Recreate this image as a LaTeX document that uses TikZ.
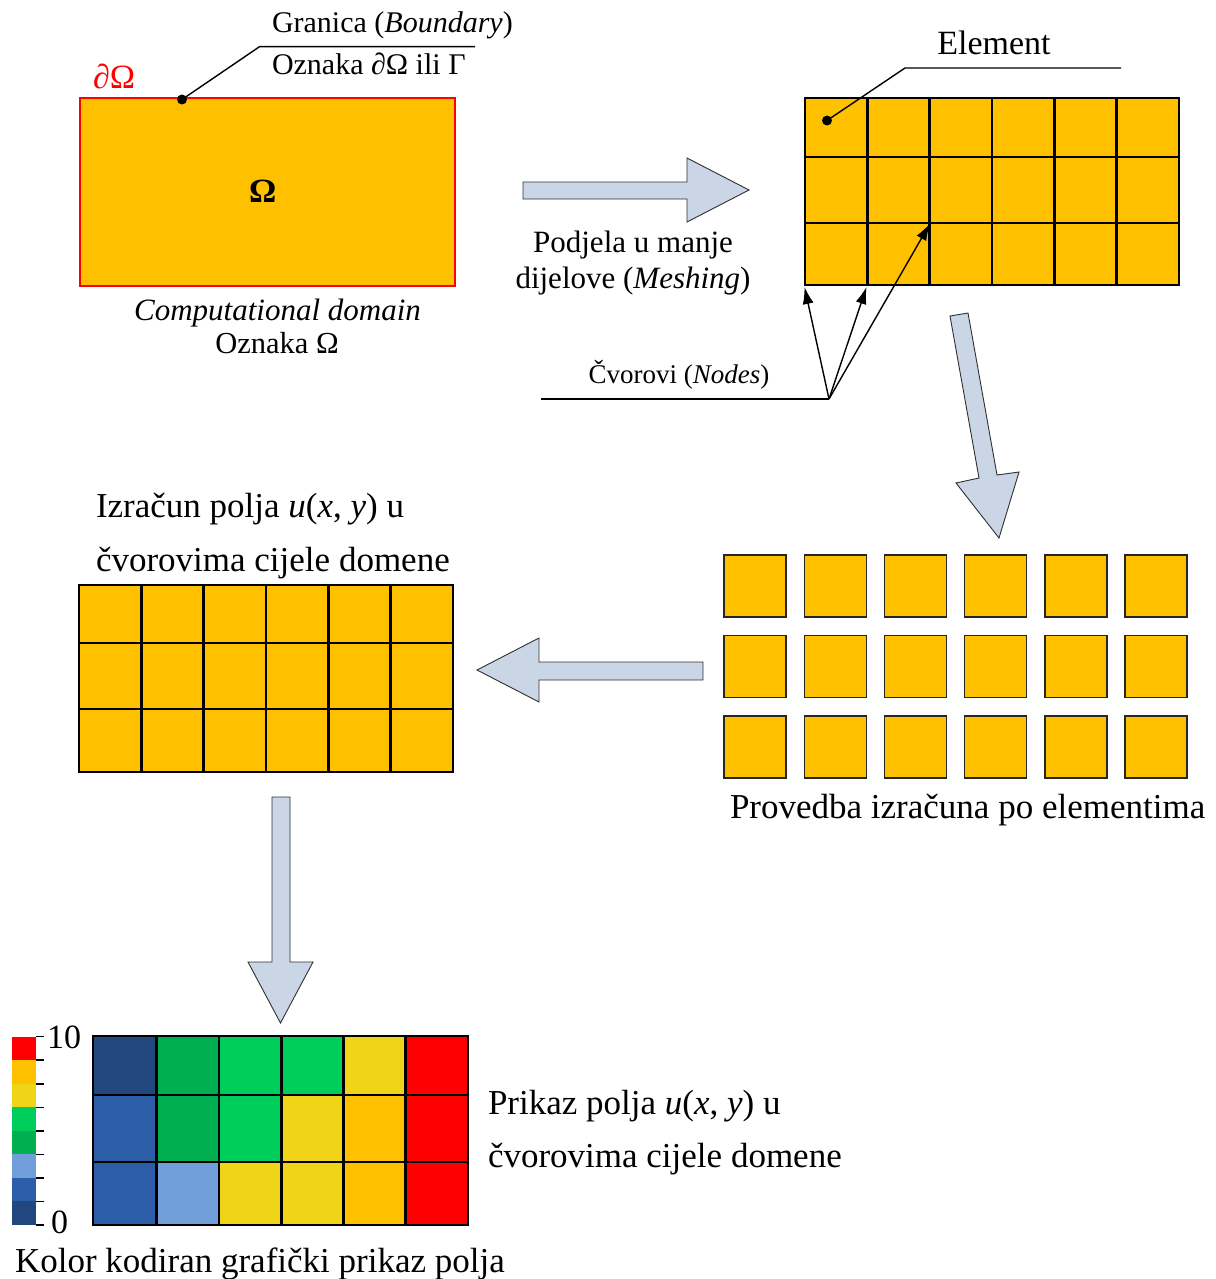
\documentclass[tikz,border=0pt]{standalone}
\usepackage{fontspec}
\setmainfont{Liberation Serif}
\usetikzlibrary{arrows.meta}
\definecolor{elfill}{HTML}{FFC000}
\definecolor{arrfill}{HTML}{CAD6E5}
\definecolor{arrline}{HTML}{303030}
\definecolor{cnavy}{HTML}{21477E}
\definecolor{cblue}{HTML}{2B5EA6}
\definecolor{clblue}{HTML}{729FDA}
\definecolor{cdgreen}{HTML}{00AF50}
\definecolor{cgreen}{HTML}{00CE5A}
\definecolor{cyellow}{HTML}{F0D418}
\definecolor{corange}{HTML}{FFC000}
\definecolor{cred}{HTML}{FF0000}
\newcommand{\fsz}[1]{\fontsize{#1}{#1}\selectfont}
\begin{document}
\begin{tikzpicture}[x=1pt,y=-1pt,
  txt/.style={inner sep=0pt, outer sep=0pt},
  gridline/.style={line width=2.6pt, black},
  blockarrow/.style={fill=arrfill, draw=arrline, line width=0.9pt, line join=miter},
  leader/.style={line width=1.4pt, black},
  ptr/.style={line width=1.4pt, black, -{Latex[length=17pt,width=11pt]}},
  elsq/.style={fill=elfill, draw=black!85, line width=1.4pt}
]
\useasboundingbox (0,0) rectangle (1215,1279);

% ---------- computational domain ----------
\draw[fill=elfill, draw=red, line width=2pt] (80,98) rectangle (455,286);
\node[txt, anchor=base, font=\fsz{34}\bfseries] (omega) at (262.7,202) {Ω};
\node[txt, anchor=base west, font=\fsz{34}, text=red] (domb) at (93,89) {∂Ω};
\coordinate (bdot) at (182,99.5);
\coordinate (bbend) at (259.5,46.7);
\coordinate (bend) at (475,46.7);
\fill (bdot) circle (5pt);
\draw[leader] (bdot) -- (bbend) -- (bend);
\node[txt, anchor=base west, font=\fsz{30}] (granica) at (272,33) {Granica (\textit{Boundary})};
\node[txt, anchor=base west, font=\fsz{30}] (oznaka1) at (272,75) {Oznaka ∂Ω ili Γ};
\node[txt, anchor=base, font=\fsz{31}\itshape] (compdom) at (277.5,320) {Computational domain};
\node[txt, anchor=base, font=\fsz{30.5}] (oznaka2) at (277,353) {Oznaka Ω};

% ---------- arrow 1 (right) ----------
\draw[blockarrow] (523,182) -- (687,182) -- (687,158) -- (749,190) -- (687,222) -- (687,199) -- (523,199) -- cycle;
\node[txt, anchor=base, font=\fsz{31}] (podjela1) at (633,252) {Podjela u manje};
\node[txt, anchor=base, font=\fsz{31}] (podjela2) at (633,288) {dijelove (\textit{Meshing})};

% ---------- mesh 1 ----------
\fill[elfill] (805,98) rectangle (1179,285);
\foreach \x in {867.3,929.7,992,1054.3,1116.7} \draw[gridline] (\x,98) -- (\x,285);
\foreach \y in {157,223} \draw[gridline] (805,\y) -- (1179,\y);
\draw[gridline] (805,98) rectangle (1179,285);
\coordinate (edot) at (827,120.5);
\coordinate (ebend) at (905,68);
\coordinate (eend) at (1121,68);
\fill (edot) circle (5pt);
\draw[leader] (edot) -- (ebend) -- (eend);
\node[txt, anchor=base, font=\fsz{34}] (element) at (994,55) {Element};

% nodes pointers
\coordinate (nsrc) at (829,399);
\coordinate (nleft) at (541,399);
\coordinate (n1) at (804.5,287);
\coordinate (n2) at (866.5,287);
\coordinate (n3) at (930,223.5);
\draw[leader] (nleft) -- (nsrc);
\draw[ptr] (nsrc) -- (n1);
\draw[ptr] (nsrc) -- (n2);
\draw[ptr] (nsrc) -- (n3);
\node[txt, anchor=base, font=\fsz{27}] (cvorovi) at (679,383) {Čvorovi (\textit{Nodes})};

% ---------- arrow 2 (diagonal down) ----------
\draw[blockarrow] (950,316) -- (968,313) -- (997,475) -- (1019,472) -- (999,538) -- (956,483) -- (979,478) -- cycle;

% ---------- separated elements ----------
\foreach \i in {0,...,5}
  \foreach \j in {0,1,2}
    \draw[elsq] ({724+80.2*\i},{555+80.5*\j}) rectangle ++(62,62);
\node[txt, anchor=base west, font=\fsz{35}] (provedba) at (730,818) {Provedba izračuna po elementima};

% ---------- arrow 3 (left) ----------
\draw[blockarrow] (703,662) -- (539,662) -- (539,638) -- (477,670) -- (539,702) -- (539,680) -- (703,680) -- cycle;

% ---------- mesh 2 ----------
\fill[elfill] (79,585) rectangle (453,772);
\foreach \x in {141.3,203.7,266,328.3,390.7} \draw[gridline] (\x,585) -- (\x,772);
\foreach \y in {643,709} \draw[gridline] (79,\y) -- (453,\y);
\draw[gridline] (79,585) rectangle (453,772);
\node[txt, anchor=base west, font=\fsz{35}] (izracun1) at (96,517) {Izračun polja \textit{u}(\textit{x}, \textit{y}) u};
\node[txt, anchor=base west, font=\fsz{35}] (izracun2) at (96,571) {čvorovima cijele domene};

% ---------- arrow 4 (down) ----------
\draw[blockarrow] (272,797) -- (290,797) -- (290,962) -- (313,962) -- (280.5,1023) -- (248,962) -- (272,962) -- cycle;

% ---------- colour-coded grid ----------
\def\cx{{93,156.7,219,281.7,343.3,405.7,468}}
\def\cy{{1036,1095,1162,1225}}
\foreach \c [count=\k from 0] in {cnavy,cdgreen,cgreen,cgreen,cyellow,cred,
                                  cblue,cdgreen,cgreen,cyellow,corange,cred,
                                  cblue,clblue,cyellow,cyellow,corange,cred}{
  \pgfmathtruncatemacro{\col}{mod(\k,6)}
  \pgfmathtruncatemacro{\row}{div(\k,6)}
  \pgfmathsetmacro{\xa}{\cx[\col]}
  \pgfmathsetmacro{\xb}{\cx[\col+1]}
  \pgfmathsetmacro{\ya}{\cy[\row]}
  \pgfmathsetmacro{\yb}{\cy[\row+1]}
  \fill[\c] (\xa,\ya) rectangle (\xb,\yb);
}
\foreach \x in {156.7,219,281.7,343.3,405.7} \draw[gridline] (\x,1036) -- (\x,1225);
\foreach \y in {1095,1162} \draw[gridline] (93,\y) -- (468,\y);
\draw[gridline] (93,1036) rectangle (468,1225);

% colour bar
\foreach \c [count=\k from 0] in {cnavy,cblue,clblue,cdgreen,cgreen,cyellow,corange,cred}
  \fill[\c] (12,{1225-23.54*\k}) rectangle (36,{1225-23.54*(\k+1)});
\foreach \k in {0,...,8}
  \draw[line width=1.6pt] (36,{1225-23.54*\k}) -- (43.5,{1225-23.54*\k});
\node[txt, anchor=base west, font=\fsz{34}] (ten) at (47,1048) {10};
\node[txt, anchor=base west, font=\fsz{34}] (zero) at (51,1233) {0};

\node[txt, anchor=base west, font=\fsz{35}] (prikaz1) at (488,1114) {Prikaz polja \textit{u}(\textit{x}, \textit{y}) u};
\node[txt, anchor=base west, font=\fsz{35}] (prikaz2) at (488,1167) {čvorovima cijele domene};
\node[txt, anchor=base west, font=\fsz{35}] (kolor) at (15,1272) {Kolor kodiran grafički prikaz polja};
\end{tikzpicture}
\end{document}
